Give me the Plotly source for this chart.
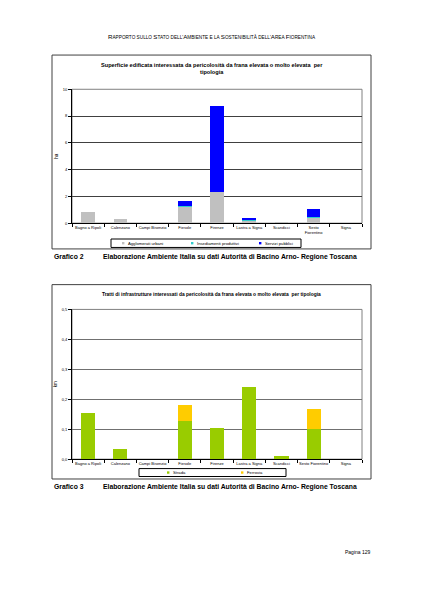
import plotly.graph_objects as go

# ---------------- data ----------------
comuni1 = ["Bagno a Ripoli", "Calenzano", "Campi Bisenzio", "Fiesole", "Firenze",
           "Lastra a Signa", "Scandicci", "Sesto<br>Fiorentino", "Signa"]
agglomerati = [0.8, 0.3, 0.0, 1.2, 2.3, 0.2, 0.05, 0.4, 0.0]
insediamenti = [0.0, 0.0, 0.0, 0.05, 0.0, 0.02, 0.0, 0.03, 0.0]
servizi = [0.0, 0.0, 0.0, 0.37, 6.45, 0.08, 0.0, 0.62, 0.0]

comuni2 = ["Bagno a Ripoli", "Calenzano", "Campi Bisenzio", "Fiesole", "Firenze",
           "Lastra a Signa", "Scandicci", "Sesto Fiorentino", "Signa"]
strada = [0.155, 0.035, 0.0, 0.126, 0.105, 0.24, 0.01, 0.10, 0.0]
ferrovia = [0.0, 0.0, 0.0, 0.056, 0.0, 0.0, 0.0, 0.066, 0.0]

y1_ticks = [0, 2, 4, 6, 8, 10]
y2_ticks = [0, 0.1, 0.2, 0.3, 0.4, 0.5]
y2_ticktext = ["0,0", "0,1", "0,2", "0,3", "0,4", "0,5"]

# ---------------- helpers ----------------
W, H = 424, 599
FONT = "Liberation Sans, Arial, sans-serif"


def px(x):
    return x / W


def py(y):
    return 1 - y / H


C_GRAY = "#C0C0C0"
C_CYAN = "#33CCCC"
C_BLUE = "#0000FF"
C_GREEN = "#99CC00"
C_YELLOW = "#FFCC00"

fig = go.Figure()

fig.add_trace(go.Bar(x=comuni1, y=agglomerati, name="Agglomerati urbani", marker_color=C_GRAY,
                     marker_line_width=0, width=0.42, xaxis="x", yaxis="y"))
fig.add_trace(go.Bar(x=comuni1, y=insediamenti, name="Insediamenti produttivi", marker_color=C_CYAN,
                     marker_line_width=0, width=0.42, xaxis="x", yaxis="y"))
fig.add_trace(go.Bar(x=comuni1, y=servizi, name="Servizi pubblici", marker_color=C_BLUE,
                     marker_line_width=0, width=0.42, xaxis="x", yaxis="y"))

fig.add_trace(go.Bar(x=comuni2, y=strada, name="Strada", marker_color=C_GREEN,
                     marker_line_width=0, width=0.44, xaxis="x2", yaxis="y2"))
fig.add_trace(go.Bar(x=comuni2, y=ferrovia, name="Ferrovia", marker_color=C_YELLOW,
                     marker_line_width=0, width=0.44, xaxis="x2", yaxis="y2"))

tickfont = dict(family=FONT, size=4, color="#000")

xa_common = dict(type="category", showline=True, linecolor="#000", linewidth=1,
                 ticks="outside", ticklen=3, tickcolor="#000", tickson="boundaries",
                 tickfont=tickfont, tickangle=0, showgrid=False, fixedrange=True)
ya_common = dict(showline=True, linecolor="#000", linewidth=1, ticks="outside",
                 ticklen=3, tickcolor="#000", tickfont=tickfont, zeroline=False,
                 fixedrange=True)

fig.update_layout(
    width=W, height=H, margin=dict(l=0, r=0, t=0, b=0),
    paper_bgcolor="white", plot_bgcolor="white",
    barmode="stack", bargap=0.5, showlegend=False,
    font=dict(family=FONT, color="#000"),
    xaxis=dict(domain=[px(72), px(362)], anchor="y", **xa_common),
    yaxis=dict(domain=[py(222), py(87)], anchor="x", range=[0, 10],
               tickvals=y1_ticks, showgrid=True, gridcolor="#404040", gridwidth=1,
               title=dict(text="ha", font=dict(family=FONT, size=4.5), standoff=4),
               **ya_common),
    xaxis2=dict(domain=[px(72), px(362)], anchor="y2", **xa_common),
    yaxis2=dict(domain=[py(460), py(309)], anchor="x2", range=[0, 0.5],
                tickvals=y2_ticks, ticktext=y2_ticktext, showgrid=True,
                gridcolor="#707070", gridwidth=1,
                title=dict(text="km", font=dict(family=FONT, size=4.5), standoff=4),
                **ya_common),
)

shapes = []
# chart boxes
for (y0, y1) in [(52.5, 248), (284, 480)]:
    shapes.append(dict(type="rect", xref="paper", yref="paper", x0=px(52), x1=px(371),
                       y0=py(y1), y1=py(y0), line=dict(color="#404040", width=1)))
# plot area frames
for xr, yr in [("x domain", "y domain"), ("x2 domain", "y2 domain")]:
    shapes.append(dict(type="rect", xref=xr, yref=yr, x0=0, x1=1, y0=0, y1=1,
                       line=dict(color="#808080", width=1), layer="below"))
# legend boxes
for (x0, x1, y0, y1) in [(111, 301, 238, 246.5), (139, 286, 469.5, 477.5)]:
    shapes.append(dict(type="rect", xref="paper", yref="paper", x0=px(x0), x1=px(x1),
                       y0=py(y1), y1=py(y0), line=dict(color="#000", width=1),
                       fillcolor="white"))
# legend symbols
leg1 = [(122, 242.2, C_GRAY, "Agglomerati urbani"),
        (191, 242.2, C_CYAN, "Insediamenti produttivi"),
        (259, 242.2, C_BLUE, "Servizi pubblici")]
leg2 = [(167, 473.5, C_GREEN, "Strada"),
        (241, 473.5, C_YELLOW, "Ferrovia")]
annotations = []
for (sx, sy, col, label) in leg1 + leg2:
    shapes.append(dict(type="rect", xref="paper", yref="paper", x0=px(sx), x1=px(sx + 2.4),
                       y0=py(sy + 1.2), y1=py(sy - 1.2), line=dict(width=0), fillcolor=col))
    annotations.append(dict(xref="paper", yref="paper", x=px(sx + 3.5), y=py(sy),
                            text=label, showarrow=False, xanchor="left", yanchor="middle",
                            font=dict(family=FONT, size=4.2, color="#000")))


# header in small caps
def small_caps(s, big=6.2, small=4.7):
    out = []
    for ch in s:
        if ch.isupper():
            out.append(f'<span style="font-size:{big}px">{ch}</span>')
        elif ch.isalpha():
            out.append(f'<span style="font-size:{small}px">{ch.upper()}</span>')
        else:
            out.append(f'<span style="font-size:{small}px">{ch}</span>')
    return "".join(out)


annotations.append(dict(xref="paper", yref="paper", x=px(212), y=py(33.5),
                        text=small_caps("Rapporto sullo Stato dell'Ambiente e la Sostenibilità dell'Area Fiorentina"),
                        showarrow=False, xanchor="center", yanchor="middle",
                        font=dict(family=FONT, size=5, color="#000")))

# chart titles
annotations.append(dict(xref="paper", yref="paper", x=px(212), y=py(66.5),
                        text="<b>Superficie edificata interessata da pericolosità da frana elevata o molto elevata  per<br>tipologia</b>",
                        showarrow=False, xanchor="center", yanchor="middle",
                        font=dict(family=FONT, size=5.6, color="#000")))
annotations.append(dict(xref="paper", yref="paper", x=px(211), y=py(294),
                        text="<b>Tratti di infrastrutture interessati da pericolosità da frana elevata o molto elevata  per tipologia</b>",
                        showarrow=False, xanchor="center", yanchor="middle",
                        font=dict(family=FONT, size=4.9, color="#000")))

# captions
for yy, num in [(256, "2"), (488, "3")]:
    annotations.append(dict(xref="paper", yref="paper", x=px(51.5), y=py(yy),
                            text=f"<b>Grafico {num}</b>", showarrow=False,
                            xanchor="left", yanchor="middle",
                            font=dict(family=FONT, size=6.8, color="#000")))
    annotations.append(dict(xref="paper", yref="paper", x=px(101), y=py(yy),
                            text="<b>Elaborazione Ambiente Italia su dati Autorità di Bacino Arno- Regione Toscana</b>",
                            showarrow=False, xanchor="left", yanchor="middle",
                            font=dict(family=FONT, size=6.8, color="#000")))

# page number
annotations.append(dict(xref="paper", yref="paper", x=px(358), y=py(554),
                        text="Pagina 129", showarrow=False, xanchor="center",
                        yanchor="middle", font=dict(family=FONT, size=5, color="#000")))

fig.update_layout(shapes=shapes, annotations=annotations)

fig.write_html("out.html", config={"displayModeBar": False},
               post_script="document.body.style.margin='0';document.body.style.overflow='hidden';")
